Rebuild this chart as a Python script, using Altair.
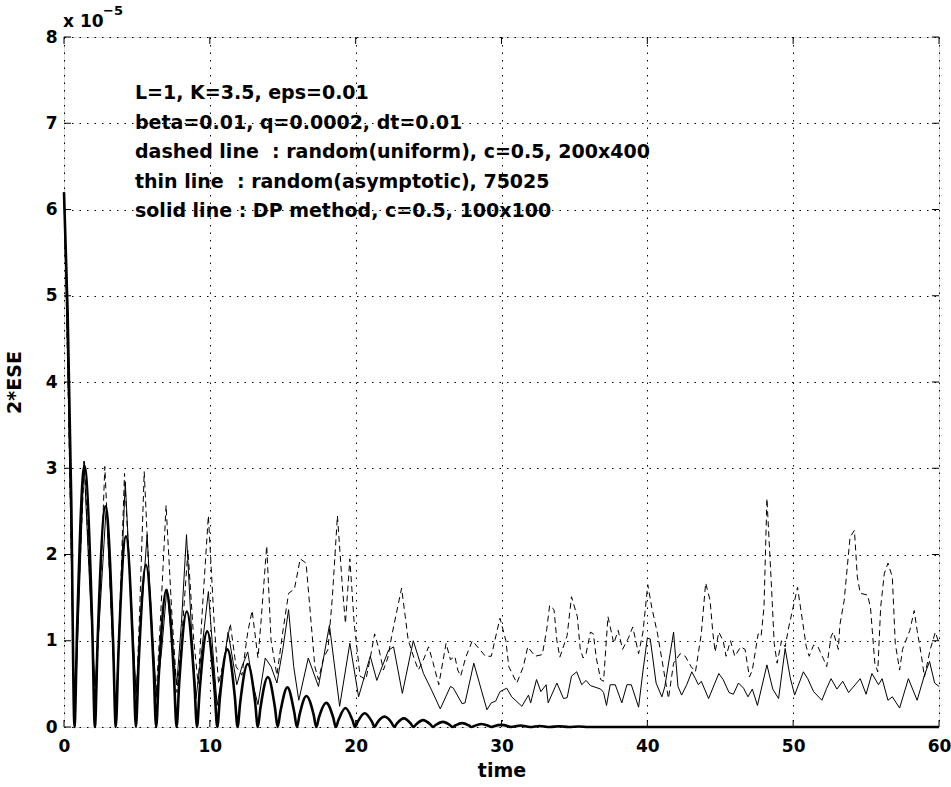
import altair as alt
import pandas as pd

# ---------------- data (values in units of 1e-5) ----------------
thick_t = [0, 0.25, 0.5, 0.72,
           0.90, 1.40, 1.94, 2.12,
           2.30, 2.85, 3.37, 3.55,
           3.73, 4.25, 4.75, 4.93,
           5.11, 5.62, 6.14, 6.32,
           6.50, 7.02, 7.54, 7.72,
           7.90, 8.42, 8.94, 9.12,
           9.30, 9.82, 10.33, 10.51,
           10.69, 11.2, 11.72, 11.9,
           12.08, 12.6, 13.11, 13.29,
           13.47, 13.98, 14.47, 14.65,
           14.83, 15.32, 15.79, 15.97,
           16.15, 16.62, 17.12, 17.3,
           17.48, 17.98, 18.46, 18.64,
           18.82, 19.3, 19.78, 19.96,
           20.14, 20.62, 21.12, 21.3,
           21.48, 21.98, 22.46, 22.64,
           22.82, 23.3, 23.78, 23.96,
           24.14, 24.62, 25.12, 25.3,
           25.48, 25.98, 26.46, 26.64,
           26.82, 27.3, 27.78, 27.96,
           28.14, 28.62, 29.12, 29.3,
           29.48, 29.98, 30.46, 30.64,
           31.3, 31.96, 32.62, 33.3, 33.95, 34.62, 35.3, 35.96, 60]
thick_v = [6.2, 4.8, 2.6, 0,
           1.15, 3.03, 1.15, 0,
           0.97, 2.56, 0.97, 0,
           0.84, 2.21, 0.84, 0,
           0.71, 1.88, 0.71, 0,
           0.60, 1.59, 0.60, 0,
           0.51, 1.34, 0.51, 0,
           0.42, 1.11, 0.42, 0,
           0.34, 0.90, 0.34, 0,
           0.28, 0.73, 0.28, 0,
           0.22, 0.58, 0.22, 0,
           0.17, 0.46, 0.17, 0,
           0.14, 0.36, 0.14, 0,
           0.11, 0.28, 0.11, 0,
           0.08, 0.22, 0.08, 0,
           0.06, 0.16, 0.06, 0,
           0.05, 0.12, 0.05, 0,
           0.04, 0.10, 0.04, 0,
           0.03, 0.08, 0.03, 0,
           0.023, 0.06, 0.023, 0,
           0.017, 0.045, 0.017, 0,
           0.013, 0.035, 0.013, 0,
           0.01, 0.025, 0.01, 0,
           0.018, 0, 0.012, 0, 0.008, 0, 0.005, 0, 0]

thin_t = [0, 0.3, 0.72, 1.0, 1.37, 1.8, 2.13, 2.45, 2.9, 3.25, 3.55, 3.85, 4.2, 4.6, 4.94,
          5.3, 5.7, 6.05, 6.35, 6.7, 7.05, 7.4, 7.73, 8.05, 8.4, 8.75, 9.05, 9.45, 9.9,
          10.2, 10.5, 10.85, 11.25, 11.55, 11.85, 12.2, 12.6, 12.95, 13.3, 13.8, 14.2,
          14.6, 15.0, 15.4, 15.75, 16.1, 16.75, 17.45, 18.2, 18.9, 19.6, 20.2, 21.0,
          21.45, 22.25, 22.6, 23.2, 23.95, 24.65, 25.2, 25.8, 26.5, 26.7, 27.3, 27.5,
          28.1, 29.0, 29.3, 29.6, 29.9, 30.36, 30.7, 31.4, 31.85, 32.0, 32.4, 32.7,
          33.06, 33.2, 33.8, 34.25, 34.5, 34.8, 35.16, 35.5, 35.8, 36.1, 36.8, 37.0,
          37.2, 37.45, 37.8, 38.25, 38.6, 38.9, 39.4, 39.7, 40.0, 40.2, 40.6, 41.0,
          41.2, 41.8, 42.1, 42.35, 42.7, 43.05, 43.3, 43.5, 43.7, 44.2, 44.9, 45.2,
          45.6, 45.9, 46.25, 46.6, 46.9, 47.2, 47.55, 48.2, 48.6, 49.0, 49.45, 49.8,
          50.1, 50.7, 51.0, 51.4, 51.97, 52.3, 52.6, 53.0, 53.4, 53.8, 54.6, 55.0,
          55.4, 55.85, 56.1, 56.5, 56.8, 57.3, 57.9, 58.5, 59.0, 59.35, 59.7, 60.0]
thin_v = [6.2, 3.8, 0.02, 1.3, 3.08, 1.5, 0.47, 1.3, 2.57, 1.3, 0.15, 1.4, 2.84, 1.5, 0.39,
          1.3, 2.23, 1.1, 0.35, 0.9, 1.6, 1.0, 0.49, 1.2, 2.23, 1.1, 0.33, 0.9, 1.57,
          0.9, 0.25, 0.6, 1.10, 0.8, 0.49, 0.7, 0.87, 0.5, 0.26, 0.80, 0.7,
          0.51, 0.9, 1.36, 0.7, 0.31, 0.80, 0.47, 1.18, 0.24, 0.97, 0.35, 0.82,
          0.54, 0.89, 0.93, 0.39, 1.0, 0.62, 0.43, 0.21, 0.47, 0.45, 0.27, 0.28,
          0.74, 0.20, 0.28, 0.30, 0.41, 0.45, 0.35, 0.24, 0.37, 0.28, 0.55, 0.41,
          0.49, 0.28, 0.51, 0.33, 0.34, 0.59, 0.64, 0.49, 0.54, 0.48, 0.44, 0.40,
          0.25, 0.49, 0.49, 0.28, 0.49, 0.49, 0.23, 0.65, 1.03, 1.02, 0.51, 0.35,
          0.47, 1.1, 0.47, 0.37, 0.49, 0.64, 0.56, 0.49, 0.53, 0.33, 0.62, 0.55,
          0.40, 0.38, 0.51, 0.45, 0.35, 0.44, 0.25, 0.72, 0.44, 0.33, 0.91, 0.57,
          0.37, 0.64, 0.56, 0.41, 0.31, 0.45, 0.56, 0.44, 0.53, 0.40, 0.56, 0.38,
          0.62, 0.49, 0.56, 0.31, 0.35, 0.22, 0.56, 0.31, 0.60, 0.76, 0.51, 0.47]

dash_t = [0, 0.3, 0.72, 1.0, 1.4, 1.8, 2.15, 2.45, 2.8, 3.2, 3.55, 3.8, 4.15, 4.55, 4.95,
          5.2, 5.5, 5.9, 6.3, 6.6, 7.0, 7.4, 7.75, 8.1, 8.5, 8.9, 9.2, 9.5, 9.9, 10.3,
          10.6, 11.0, 11.4, 11.8, 12.2, 12.6, 12.9, 13.3, 13.5, 13.9, 14.2, 14.6, 15.0,
          15.4, 15.8, 16.2, 16.6, 16.9, 17.2, 17.45, 17.8, 18.1, 18.4, 18.75, 19.1,
          19.3, 19.6, 19.9, 20.3, 20.7, 21.0, 21.3, 21.6, 21.9, 22.2, 22.5, 23.15,
          23.4, 23.6, 24.0, 24.3, 24.7, 25.0, 25.3, 25.7, 26.2, 26.5, 26.8, 27.0,
          27.2, 27.55, 28.0, 28.5, 28.9, 29.3, 29.7, 29.9, 30.3, 30.5, 31.05, 31.5,
          31.8, 32.3, 32.8, 33.1, 33.3, 33.6, 33.8, 34.0, 34.5, 34.8, 35.2, 35.4,
          35.6, 35.8, 36.1, 36.3, 36.5, 36.8, 37.0, 37.3, 37.7, 38.0, 38.3, 38.7,
          39.0, 39.4, 39.7, 40.03, 40.3, 40.7, 41.0, 41.45, 41.8, 42.25, 42.6, 43.0,
          43.3, 43.7, 44.0, 44.3, 44.5, 44.65, 44.9, 45.2, 45.4, 45.7, 46.0, 46.4,
          46.7, 47.0, 47.2, 47.6, 47.8, 48.0, 48.2, 48.5, 48.7, 48.9, 49.2, 49.45,
          49.7, 50.0, 50.3, 50.5, 50.9, 51.1, 51.4, 51.7, 52.1, 52.3, 52.6, 52.75,
          53.1, 53.2, 53.5, 53.9, 54.2, 54.4, 54.6, 55.1, 55.3, 55.6, 55.8, 56.0,
          56.25, 56.5, 56.8, 57.0, 57.3, 57.5, 58.0, 58.3, 58.5, 58.8, 59.0, 59.4,
          59.75, 60.0]
dash_v = [6.2, 3.8, 0.05, 1.5, 3.08, 1.6, 0.2, 1.4, 3.02, 1.5, 0.15, 1.2, 2.94, 1.6, 0.3,
          1.4, 2.96, 1.5, 0.3, 1.2, 2.57, 1.3, 0.4, 1.1, 2.05, 1.0, 0.5, 1.4, 2.45, 1.2,
          0.5, 0.8, 1.2, 0.7, 0.6, 1.1, 1.35, 0.8, 1.2, 2.1, 1.0, 0.6, 1.1,
          1.55, 1.6, 1.95, 1.9, 1.3, 0.7, 0.55, 0.8, 0.9, 1.5, 2.45, 1.6,
          1.2, 1.95, 1.2, 0.59, 0.55, 0.8, 1.08, 0.9, 0.66, 0.8, 1.08, 1.61,
          1.28, 1.01, 0.8, 0.66, 0.8, 0.93, 0.75, 0.49, 0.97, 0.78, 0.82, 0.66,
          0.59, 0.81, 1.0, 0.9, 0.82, 0.82, 1.12, 1.26, 1.0, 0.7, 0.51, 0.7,
          0.93, 0.82, 0.84, 1.13, 1.41, 1.36, 1.0, 0.81, 1.06, 1.51, 1.28, 0.9,
          0.8, 0.85, 1.1, 1.08, 0.8, 0.55, 0.53, 1.28, 0.97, 1.12, 0.9, 1.03,
          1.16, 0.85, 1.1, 1.65, 1.39, 1.08, 0.78, 0.33, 0.74, 0.85, 0.82, 0.7,
          0.64, 1.08, 1.67, 1.47, 1.08, 0.87, 1.1, 1.0, 0.82, 1.0, 0.82, 0.93,
          0.9, 0.58, 0.66, 1.08, 1.05, 1.39, 2.65, 1.67, 0.97, 0.74, 1.0, 0.93,
          1.16, 1.39, 1.62, 1.39, 0.93, 0.82, 0.95, 0.93, 0.78, 0.70, 1.05, 1.1,
          0.9, 1.18, 1.47, 2.2, 2.28, 1.74, 1.55, 1.53, 1.39, 0.74, 0.64, 1.39,
          1.78, 1.9, 1.74, 0.97, 0.66, 0.9, 1.12, 1.35, 1.12, 0.82, 0.58, 0.9,
          1.1, 0.97]

x_ticks = [0, 10, 20, 30, 40, 50, 60]
y_ticks = [0, 1, 2, 3, 4, 5, 6, 7, 8]

notes = ["L=1, K=3.5, eps=0.01",
         "beta=0.01, q=0.0002, dt=0.01",
         "dashed line\u00a0 : random(uniform), c=0.5, 200x400",
         "thin line\u00a0 : random(asymptotic), 75025",
         "solid line : DP method, c=0.5, 100x100"]

# ---------------- chart ----------------
W, H = 875, 690
FONT = "DejaVu Sans"

xs = alt.Scale(domain=[0, 60], nice=False, zero=False)
ys = alt.Scale(domain=[0, 8], nice=False, zero=False)

df_thick = pd.DataFrame({"t": thick_t, "v": thick_v})
df_thin = pd.DataFrame({"t": thin_t, "v": thin_v})
df_dash = pd.DataFrame({"t": dash_t, "v": dash_v})
df_xt = pd.DataFrame({"t": x_ticks})
df_yt = pd.DataFrame({"v": y_ticks})

x_axis = alt.Axis(values=x_ticks, grid=True, gridDash=[1.5, 6], gridColor="#000000",
                  gridWidth=1, gridOpacity=1, ticks=False, tickSize=0, domain=False,
                  labelFont=FONT, labelFontWeight="bold", labelFontSize=17, labelColor="#000",
                  labelPadding=11, labelFlush=False,
                  title="time", titleFont=FONT, titleFontWeight="bold", titleFontSize=19,
                  titleColor="#000", titlePadding=7)
y_axis = alt.Axis(values=y_ticks, grid=True, gridDash=[1.5, 6], gridColor="#000000",
                  gridWidth=1, gridOpacity=1, ticks=False, tickSize=0, domain=False,
                  labelFont=FONT, labelFontWeight="bold", labelFontSize=17, labelColor="#000",
                  labelPadding=7, labelFlush=False,
                  title="2*ESE", titleFont=FONT, titleFontWeight="bold", titleFontSize=19,
                  titleColor="#000", titlePadding=21)

X = alt.X("t:Q", scale=xs, axis=x_axis)
Y = alt.Y("v:Q", scale=ys, axis=y_axis)

dashed = alt.Chart(df_dash).mark_line(color="black", strokeWidth=1, strokeDash=[6, 4]).encode(
    x=X, y=Y, order="t:Q")
thin = alt.Chart(df_thin).mark_line(color="black", strokeWidth=1).encode(
    x=X, y=Y, order="t:Q")
thick = alt.Chart(df_thick).mark_line(color="black", strokeWidth=2.6, interpolate="monotone").encode(
    x=X, y=Y, order="t:Q")

tick_len = 7
ticks_bottom = alt.Chart(df_xt).mark_rule(color="black", strokeWidth=1).encode(
    x=X, y=alt.value(H), y2=alt.value(H - tick_len))
ticks_top = alt.Chart(df_xt).mark_rule(color="black", strokeWidth=1).encode(
    x=X, y=alt.value(0), y2=alt.value(tick_len))
ticks_left = alt.Chart(df_yt).mark_rule(color="black", strokeWidth=1).encode(
    y=Y, x=alt.value(0), x2=alt.value(tick_len))
ticks_right = alt.Chart(df_yt).mark_rule(color="black", strokeWidth=1).encode(
    y=Y, x=alt.value(W), x2=alt.value(W - tick_len))

layers = [dashed, thin, thick, ticks_bottom, ticks_top, ticks_left, ticks_right]

for i, line in enumerate(notes):
    layers.append(
        alt.Chart(pd.DataFrame({"s": [line]})).mark_text(
            font=FONT, fontWeight="bold", fontSize=19, align="left", baseline="middle",
            color="black").encode(text="s:N", x=alt.value(71), y=alt.value(56 + i * 29.6))
    )

layers.append(
    alt.Chart(pd.DataFrame({"s": ["x 10"]})).mark_text(
        font=FONT, fontWeight="bold", fontSize=17, align="left", baseline="alphabetic",
        color="black").encode(text="s:N", x=alt.value(-1), y=alt.value(-10))
)
layers.append(
    alt.Chart(pd.DataFrame({"s": ["\u22125"]})).mark_text(
        font=FONT, fontWeight="bold", fontSize=13, align="left", baseline="alphabetic",
        color="black").encode(text="s:N", x=alt.value(39), y=alt.value(-22))
)

chart = alt.layer(*layers).properties(
    width=W, height=H,
    autosize=alt.AutoSizeParams(type="none"),
    padding={"left": 64, "top": 37, "right": 12, "bottom": 60},
).configure_view(stroke="black", strokeWidth=1.5).configure(background="white")

chart.save("out.html", embed_options={"renderer": "svg", "actions": False})
